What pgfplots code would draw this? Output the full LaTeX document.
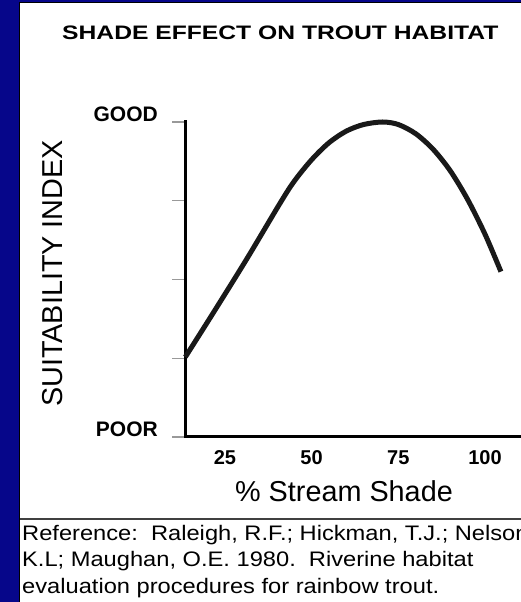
\documentclass[border=0pt]{standalone}
\usepackage{pgfplots}
\pgfplotsset{compat=1.18}
\usepackage{fontspec}
\setmainfont{Liberation Sans}
\definecolor{frameblue}{RGB}{6,6,138}

\begin{document}
\begin{tikzpicture}[x=1pt,y=1pt]
\useasboundingbox (0,0) rectangle (521,602);
% slide frame
\fill[frameblue] (0,0) rectangle (521,602);
\fill[white] (20,0) rectangle (521,599);
\draw[line width=1.2pt] (19.6,0) -- (19.6,599.4) -- (521,599.4);
\draw[line width=1.5pt, black!75] (20,83) -- (521,83);

\node[anchor=base west, inner sep=0pt] at (62,562)
  {\scalebox{1.265}[1]{\fontsize{19.5}{20}\selectfont\bfseries SHADE EFFECT ON TROUT HABITAT}};

\begin{axis}[
    at={(185pt,165pt)}, anchor=south west,
    scale only axis, width=335pt, height=315pt,
    xmin=13.5, xmax=110.1, ymin=0, ymax=1,
    clip=false,
    axis x line=bottom, axis y line=left,
    axis line style={-, line width=3pt, line cap=rect},
    xtick={25,50,75,100},
    xticklabels={25,50,75,100},
    ytick={0,0.25,0.5,0.75,1},
    yticklabels={POOR,,,,GOOD},
    tick align=outside,
    major tick length=13pt,
    x tick style={draw=none},
    y tick style={gray!80, line width=1.2pt},
    /pgf/number format/assume math mode=true,
    xticklabel style={font=\fontsize{20}{20}\selectfont\bfseries, anchor=base, inner sep=0pt, yshift=-15pt},
    yticklabel style={font=\fontsize{21}{21}\selectfont\bfseries, anchor=base east, inner sep=0pt, xshift=-14pt},
    every axis y label/.style={at={(axis description cs:-0.367,0.095)}, anchor=base west, rotate=90, inner sep=0pt},
    every axis x label/.style={at={(axis description cs:0.149,-0.206)}, anchor=base west, inner sep=0pt},
    label style={font=\fontsize{28.8}{29}\selectfont},
    xlabel={\% Stream Shade},
    ylabel={SUITABILITY INDEX},
]
\addplot[black!90, line width=5pt, smooth, tension=0.5] coordinates {
  (13.6,0.254) (21.7,0.395) (31.3,0.565) (40.9,0.742) (45,0.812)
  (50,0.880) (55,0.934) (60,0.971) (65,0.992) (70.5,1.0) (75,0.992)
  (80,0.963) (85,0.914) (90,0.845) (95,0.754) (100,0.644) (104.6,0.525)
};
\end{axis}

\node[anchor=base west, inner sep=0pt] at (22,61)
  {\scalebox{1.127}[1]{\fontsize{21}{21}\selectfont Reference:\ \ Raleigh, R.F.; Hickman, T.J.; Nelson,}};
\node[anchor=base west, inner sep=0pt] at (22,35)
  {\scalebox{1.127}[1]{\fontsize{21}{21}\selectfont K.L; Maughan, O.E. 1980.\ \ Riverine habitat}};
\node[anchor=base west, inner sep=0pt] at (22,9)
  {\scalebox{1.127}[1]{\fontsize{21}{21}\selectfont evaluation procedures for rainbow trout.}};
\end{tikzpicture}
\end{document}
